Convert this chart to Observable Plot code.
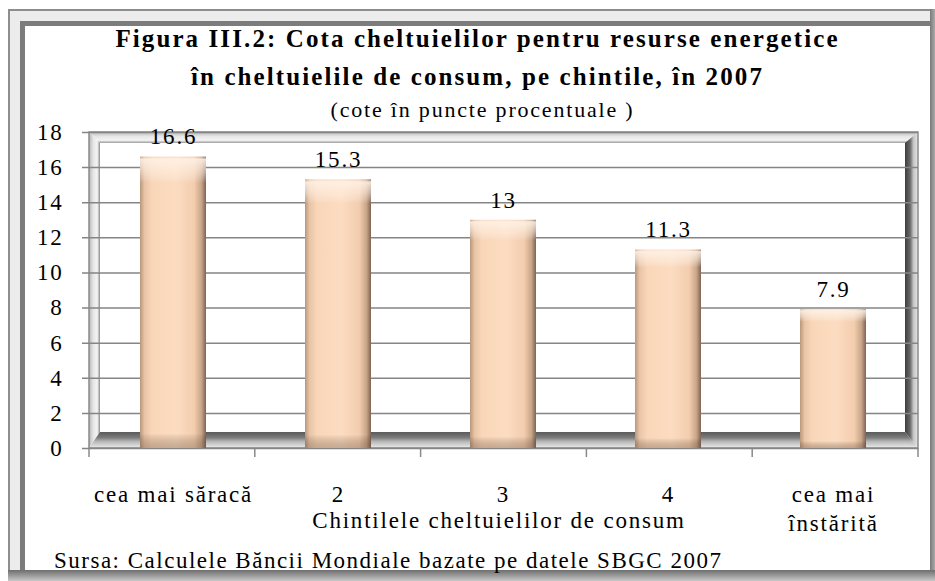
<!DOCTYPE html>
<html>
<head>
<meta charset="utf-8">
<script src="https://cdn.jsdelivr.net/npm/d3@7"></script>
<script src="https://cdn.jsdelivr.net/npm/@observablehq/plot@0.6"></script>
<style>
  html, body { margin: 0; padding: 0; background: #fff; width: 935px; height: 581px; overflow: hidden; }
  #page { position: relative; width: 935px; height: 581px; overflow: hidden; font-family: "Liberation Serif", "Times New Roman", serif; }
  #frame1 { position: absolute; left: 8px; top: 9px; width: 950px; height: 600px; box-sizing: border-box;
            border: 2px solid #8e8e8e; background: #fff; }
  #frame2 { position: absolute; left: 10px; top: 10px; right: 0; bottom: 0; box-sizing: border-box;
            border-left: 5px solid #7c7c7c; border-top: 5px solid #7c7c7c; background: #fff; }
  #band { position: absolute; left: 0; top: 0; right: 0; bottom: 0; box-sizing: border-box;
          border-left: 10px solid #ececec; border-top: 10px solid #ececec; }
  .t { position: absolute; left: 0; width: 935px; text-align: center; color: #000; white-space: nowrap; }
  #title1, #title2 { font-weight: bold; font-size: 25px; letter-spacing: 2.1px; }
  #title1 { top: 25px; left: 10px; }
  #title2 { top: 63px; left: 10px; }
  #sub { top: 97px; font-size: 22px; letter-spacing: 1.8px; left: 15px; }
  #chart { position: absolute; left: 0; top: 118px; }
  #source { position: absolute; left: 54px; top: 548px; font-size: 23px; letter-spacing: 1.5px; white-space: nowrap; }
  #bottomline { position: absolute; left: 8px; top: 570px; width: 940px; height: 11px;
                background: linear-gradient(#6e6e6e, #9a9a9a 50%, #c8c8c8); }
  #rightline { position: absolute; left: 930px; top: 9px; width: 5px; height: 572px;
               background: linear-gradient(90deg, #7a7a7a, #aaa); }
</style>
</head>
<body>
<div id="page">
  <div id="frame1"><div id="band"></div><div id="frame2"></div></div>
  <div id="rightline"></div>
  <div id="bottomline"></div>
  <div class="t" id="title1">Figura III.2: Cota cheltuielilor pentru resurse energetice</div>
  <div class="t" id="title2">în cheltuielile de consum, pe chintile, în 2007</div>
  <div class="t" id="sub">(cote în puncte procentuale )</div>
  <div id="chart"></div>
  <div id="source">Sursa: Calculele Băncii Mondiale bazate pe datele SBGC 2007</div>
</div>
<script>
// ---- data ----
const categories = ["cea mai săracă", "2", "3", "4", "cea mai\nînstărită"];
const values = [16.6, 15.3, 13, 11.3, 7.9];
const yTicks = [0, 2, 4, 6, 8, 10, 12, 14, 16, 18];
const axisTitle = "Chintilele cheltuielilor de consum";

const data = categories.map((c, i) => ({category: c, value: values[i]}));

const FONT = "Liberation Serif, Times New Roman, serif";

function defsMark() {
  const svg = d3.create("svg:defs");
  const bar = svg.append("linearGradient").attr("id", "barGrad").attr("x1", 0).attr("x2", 1).attr("y1", 0).attr("y2", 0);
  [["0%", "#b9977c"], ["7%", "#e9c4a6"], ["18%", "#f9d6b8"], ["55%", "#fcdcc1"], ["82%", "#f3cdae"], ["93%", "#c9a68a"], ["100%", "#7f6352"]]
    .forEach(([o, c]) => bar.append("stop").attr("offset", o).attr("stop-color", c));
  const cap = svg.append("linearGradient").attr("id", "capGrad").attr("x1", 0).attr("x2", 0).attr("y1", 0).attr("y2", 1);
  [["0%", "#fff", 0.0], ["1%", "#fff3e8", 0.85], ["5%", "#fff3e8", 0.5], ["9%", "#fff", 0], ["95%", "#000", 0], ["100%", "#6b4f3c", 0.35]]
    .forEach(([o, c, a]) => cap.append("stop").attr("offset", o).attr("stop-color", c).attr("stop-opacity", a));
  return svg.node();
}

function wallMark(index, scales, values, dims) {
  const x0 = dims.marginLeft, x1 = dims.width - dims.marginRight;
  const yTop = scales.y(d3.max(yTicks)), yBot = scales.y(0);
  const d = 11;
  const g = d3.create("svg:g");
  const defs = g.append("defs");
  const mk = (id, horiz, stops) => {
    const lg = defs.append("linearGradient").attr("id", id)
      .attr("x1", 0).attr("y1", 0).attr("x2", horiz ? 1 : 0).attr("y2", horiz ? 0 : 1);
    stops.forEach(([o, c]) => lg.append("stop").attr("offset", o).attr("stop-color", c));
  };
  mk("gLeft", true, [["0%", "#b8b8b8"], ["40%", "#e6e6e6"], ["75%", "#f4f4f4"], ["100%", "#8a8a8a"]]);
  mk("gTop", false, [["0%", "#b8b8b8"], ["40%", "#e6e6e6"], ["75%", "#f4f4f4"], ["100%", "#9a9a9a"]]);
  mk("gRight", true, [["0%", "#3c3c3c"], ["40%", "#6a6a6a"], ["65%", "#c4c4c4"], ["100%", "#e6e6e6"]]);
  mk("gFloor", false, [["0%", "#5a5a5a"], ["35%", "#7c7c7c"], ["60%", "#b8b8b8"], ["100%", "#ececec"]]);
  g.append("path").attr("fill", "url(#gTop)")
    .attr("d", `M${x0},${yTop}L${x1},${yTop}L${x1 - d},${yTop + d}L${x0 + d},${yTop + d}Z`);
  g.append("path").attr("fill", "url(#gLeft)")
    .attr("d", `M${x0},${yTop}L${x0 + d},${yTop + d}L${x0 + d},${yBot - d - 5}L${x0},${yBot}Z`);
  g.append("path").attr("fill", "url(#gRight)")
    .attr("d", `M${x1 - d - 2},${yTop + d}L${x1},${yTop}L${x1},${yBot}L${x1 - d - 2},${yBot - d - 5}Z`);
  g.append("path").attr("fill", "url(#gFloor)")
    .attr("d", `M${x0 + d},${yBot - d - 5}L${x1 - d - 2},${yBot - d - 5}L${x1},${yBot}L${x0},${yBot}Z`);
  g.append("rect").attr("x", x0).attr("y", yTop).attr("width", x1 - x0).attr("height", yBot - yTop)
    .attr("fill", "none").attr("stroke", "#8a8a8a").attr("stroke-width", 1.5);
  const n = categories.length, step = (x1 - x0) / n;
  for (let i = 0; i <= n; i++) {
    g.append("line").attr("x1", x0 + i * step).attr("x2", x0 + i * step)
      .attr("y1", yBot).attr("y2", yBot + 9).attr("stroke", "#8a8a8a").attr("stroke-width", 1.5);
  }
  return g.node();
}

const chart = Plot.plot({
  width: 935,
  height: 420,
  marginLeft: 89,
  marginRight: 17,
  marginTop: 14,
  marginBottom: 90,
  style: {fontFamily: FONT, fontSize: "23px", letterSpacing: "1.8px", color: "#000", background: "transparent", overflow: "visible"},
  x: {domain: categories, paddingInner: 0.6, paddingOuter: 0.3, align: 0.5, axis: null},
  y: {domain: [0, 18], axis: null},
  marks: [
    defsMark,
    wallMark,
    Plot.ruleY(yTicks, {y: d => d, stroke: "#858585", strokeWidth: 1.5, strokeOpacity: 1, insetLeft: -7}),
    Plot.text(yTicks, {y: d => d, text: d => String(d), frameAnchor: "left", dx: -26, textAnchor: "end", fontSize: 23, fill: "#000", fontFamily: FONT}),
    Plot.barY(data, {x: "category", y: "value", fill: "url(#barGrad)"}),
    Plot.barY(data, {x: "category", y: "value", fill: "url(#capGrad)"}),
    Plot.text(data, {x: "category", y: "value", text: d => String(d.value), dy: -20, fontSize: 23, fill: "#000", fontFamily: FONT}),
    Plot.text(categories, {x: d => d, text: d => d, frameAnchor: "bottom", dy: 33, lineAnchor: "top", lineHeight: 1.25, fontSize: 23, fill: "#000", fontFamily: FONT}),
    Plot.text([axisTitle], {text: d => d, frameAnchor: "bottom", dx: -5, dy: 79, fontSize: 23, fill: "#000", fontFamily: FONT})
  ]
});
document.getElementById("chart").appendChild(chart);
</script>
</body>
</html>
